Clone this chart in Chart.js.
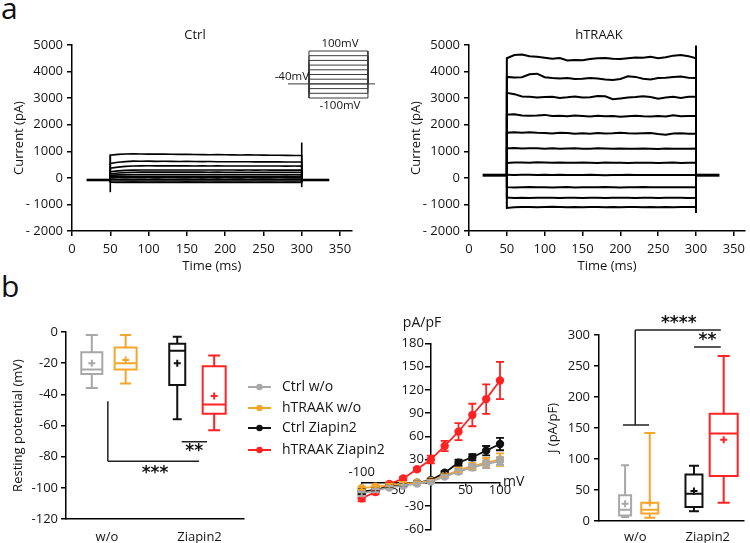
<!DOCTYPE html>
<html><head><meta charset="utf-8">
<script src="https://cdn.jsdelivr.net/npm/chart.js@4.4.1/dist/chart.umd.min.js"></script>
<style>
html,body{margin:0;padding:0;background:#fff;}
body{width:750px;height:543px;position:relative;overflow:hidden;font-family:'Open Sans',sans-serif;}
canvas{position:absolute;}
.lbl{position:absolute;font-size:30px;line-height:30px;color:#111;font-family:'Open Sans',sans-serif;}
</style></head><body>
<div class="lbl" style="left:1px;top:-7px">a</div>
<div class="lbl" style="left:1px;top:271px">b</div>
<canvas id="ctrl" style="left:0;top:25px" width="375" height="255"></canvas>
<canvas id="inset" style="left:262px;top:36px" width="116" height="80"></canvas>
<canvas id="traak" style="left:375px;top:25px" width="375" height="255"></canvas>
<canvas id="rest" style="left:0;top:300px" width="250" height="243"></canvas>
<canvas id="iv" style="left:245px;top:300px" width="280" height="243"></canvas>
<canvas id="jbox" style="left:525px;top:300px" width="225" height="243"></canvas>
<script>
// ---------- DATA ----------
const timeMs = [50,60,70,80,90,100,110,120,130,140,150,160,170,180,190,200,210,220,230,240,250,260,270,280,290,300];
const ctrlHolding = -80, ctrlHoldStart = 19, ctrlHoldEnd = 336;
const ctrlTraces = [
  [850,885,900,905,900,895,892,895,888,884,886,880,876,872,875,870,866,862,864,860,856,852,850,846,842,840],
  [540,585,612,628,626,630,622,624,620,616,619,614,611,613,609,606,608,604,605,601,603,600,600,598,596,598],
  [360,405,432,446,451,454,452,455,451,450,452,449,450,448,450,447,448,446,447,445,446,444,445,443,444,442],
  [230,262,281,291,295,297,296,298,296,295,297,295,296,294,295,293,294,292,294,292,293,291,292,290,291,290],
  [150,182,200,210,214,216,215,217,215,214,215,214,215,213,214,212,213,212,213,211,212,211,212,210,211,210],
  [95,112,120,125,127,128,127,128,127,126,127,126,127,125,126,125,126,124,125,124,125,124,125,123,124,123],
  [45,55,60,62,63,62,63,62,63,62,61,62,61,62,60,61,60,61,60,60,61,60,59,60,59,60],
  [0,5,4,2,5,3,1,4,2,3,0,2,1,3,0,2,1,0,2,1,0,1,2,0,1,0],
  [-55,-60,-58,-62,-59,-61,-58,-60,-62,-59,-60,-61,-59,-60,-58,-61,-60,-59,-61,-60,-59,-60,-61,-60,-59,-60],
  [-115,-120,-118,-122,-119,-121,-120,-118,-121,-120,-122,-119,-120,-121,-119,-120,-121,-120,-119,-121,-120,-119,-120,-121,-120,-120],
  [-165,-172,-168,-175,-170,-173,-169,-171,-174,-170,-172,-171,-169,-172,-170,-171,-173,-170,-171,-172,-170,-171,-172,-170,-171,-170]
];
const ctrlTransientTimes = [50, 300];
const ctrlTransientLow = [-540, -350];
const ctrlTransientHigh = [880, 1330];

const traakHolding = 100, traakHoldStart = 18, traakHoldEnd = 331;
const traakTraces = [
  [4500,4620,4640,4580,4560,4520,4480,4510,4420,4440,4430,4470,4500,4510,4480,4470,4500,4530,4520,4560,4500,4540,4600,4620,4580,4500],
  [3800,3780,3790,3900,3920,3790,3760,3740,3760,3720,3730,3760,3740,3700,3680,3720,3820,3800,3730,3700,3760,3770,3800,3810,3770,3760],
  [3200,3150,3060,3050,3020,3040,3050,3010,3030,3060,3020,3030,3080,3070,2960,2990,3020,3040,3070,3040,2980,3020,3050,3010,3050,3050],
  [2380,2390,2350,2340,2350,2370,2330,2340,2320,2350,2330,2310,2340,2320,2330,2300,2320,2340,2320,2310,2330,2310,2360,2320,2330,2330],
  [1700,1720,1700,1720,1700,1690,1670,1700,1690,1660,1680,1660,1690,1670,1680,1700,1680,1670,1680,1690,1650,1620,1670,1680,1660,1660],
  [1110,1120,1105,1115,1110,1100,1112,1098,1108,1115,1100,1095,1110,1102,1096,1108,1100,1092,1104,1098,1090,1102,1096,1100,1094,1100],
  [560,575,580,570,585,575,568,580,572,565,578,570,562,575,568,572,560,570,565,572,560,568,574,562,570,565],
  [120,110,115,120,105,115,110,118,108,112,105,115,110,100,112,108,115,105,110,112,104,110,108,112,105,110],
  [-350,-360,-355,-345,-358,-350,-362,-352,-348,-360,-355,-350,-358,-346,-355,-360,-350,-356,-348,-358,-352,-355,-350,-358,-352,-355],
  [-740,-755,-748,-760,-750,-745,-752,-758,-750,-745,-755,-750,-748,-756,-750,-752,-745,-755,-750,-748,-756,-750,-752,-748,-755,-750],
  [-1130,-1110,-1100,-1095,-1105,-1100,-1092,-1100,-1108,-1098,-1102,-1095,-1100,-1105,-1098,-1102,-1095,-1100,-1104,-1098,-1102,-1095,-1110,-1100,-1098,-1100]
];
const traakTransientTimes = [300];
const traakTransientLow = [-1320];
const traakTransientHigh = [4980];

// voltage protocol (inset)
const protoHolding = -40;
const protoSteps = [-100,-80,-60,-40,-20,0,20,40,60,80,100];
const protoTimes = [-39, 50, 300, 330];

// resting potential box plots (mV)
const groups = ['Ctrl w/o','hTRAAK w/o','Ctrl Ziapin2','hTRAAK Ziapin2'];
const conditions = ['w/o','Ziapin2'];
const restMin = [-36,-33,-56,-63];
const restQ1 = [-27,-24,-34,-52.5];
const restMedian = [-24,-20,-12,-46.5];
const restQ3 = [-13,-10,-7.5,-22];
const restMax = [-2,-2,-3,-15];
const restMean = [-20,-18,-20,-41];

// I-V curves (pA/pF)
const ivVoltage = [-100,-80,-60,-40,-20,0,20,40,60,80,100];
const ivCtrlWo = [-14,-10,-6,-4,-1,1.5,8,14.5,20,24,28];
const ivCtrlWoErr = [3,2,2,1.5,1.5,1.5,2,3,4,5,5];
const ivTraakWo = [-7,-5,-3,-1,0,2.5,9,16.5,21.5,26,30];
const ivTraakWoErr = [2,2,1.5,1.5,1.5,1.5,2,3,4,6,8];
const ivCtrlZia = [-11.5,-9,-5,-3,0,3.5,13,26,33,41.5,50];
const ivCtrlZiaErr = [3,2,2,2,1.5,1.5,2,4,4,6,8];
const ivTraakZia = [-20,-12,-1.5,5.5,17.5,30,47.5,66,87.5,108,132];
const ivTraakZiaErr = [4,3,2,2,2,5,6.5,11,14.5,19,24];

// current density box plots (pA/pF)
const jMin = [6.5,5.4,15.6,29.6];
const jQ1 = [9,12,22.6,72.7];
const jMedian = [18,18,44,141];
const jQ3 = [41.5,29.6,75,173];
const jMax = [90,142,89,266];
const jMean = [28,29,48.5,131];

// ---------- STYLE ----------
const GRAY = '#a8a8a8', ORANGE = '#f5a52c', BLACK = '#111111', RED = '#ff2323';
const groupColors = [GRAY, ORANGE, BLACK, RED];
const FONT = "'Open Sans', sans-serif";
const TXT = '#141414';

Chart.defaults.font.family = FONT;
Chart.defaults.font.size = 13;
Chart.defaults.color = TXT;
Chart.defaults.plugins.legend.display = false;
Chart.defaults.plugins.tooltip.enabled = false;

function baseOpts(padding) {
  return { responsive:false, maintainAspectRatio:false, animation:false, devicePixelRatio:1, events:[], layout:{padding} };
}
function axisLook(tickLen, extra) {
  return Object.assign({
    grid:{drawOnChartArea:false, drawTicks: tickLen > 0, tickLength:tickLen, color:'#000', lineWidth:1.5},
    border:{color:'#000', width:1.5}
  }, extra);
}
function textPlugin(id, items) {
  return { id, afterDraw(chart) {
    const ctx = chart.ctx;
    items.forEach(it => {
      let x = it.x, y = it.y;
      if (it.data) { x = chart.scales.x.getPixelForValue(it.x); y = chart.scales.y.getPixelForValue(it.y); }
      ctx.save();
      ctx.font = it.font || ('13px ' + FONT);
      ctx.fillStyle = it.color || TXT;
      ctx.textAlign = it.align || 'center';
      ctx.textBaseline = it.baseline || 'middle';
      ctx.fillText(it.text, x, y);
      ctx.restore();
    });
  }};
}
function linePlugin(id, segs) {
  return { id, afterDraw(chart) {
    const {ctx, scales:{x, y}} = chart;
    ctx.save(); ctx.strokeStyle = '#222'; ctx.lineWidth = 1.5;
    ctx.beginPath();
    segs.forEach(s => {
      ctx.moveTo(x.getPixelForValue(s[0]), y.getPixelForValue(s[1]));
      ctx.lineTo(x.getPixelForValue(s[2]), y.getPixelForValue(s[3]));
    });
    ctx.stroke(); ctx.restore();
  }};
}
function boxPlugin(id, mn, q1, med, q3, mx, pos, widths, caps) {
  return { id, beforeDatasetsDraw(chart) {
    const {ctx, scales:{x, y}} = chart;
    mn.forEach((_, i) => {
      const cx = x.getPixelForValue(pos[i]), w = widths[i], cw = caps[i];
      const yMin = y.getPixelForValue(mn[i]), yQ1 = y.getPixelForValue(q1[i]);
      const yMed = y.getPixelForValue(med[i]), yQ3 = y.getPixelForValue(q3[i]);
      const yMax = y.getPixelForValue(mx[i]);
      ctx.save(); ctx.strokeStyle = groupColors[i]; ctx.lineWidth = 2;
      ctx.beginPath();
      ctx.rect(cx - w/2, yQ3, w, yQ1 - yQ3);
      ctx.moveTo(cx - w/2, yMed); ctx.lineTo(cx + w/2, yMed);
      ctx.moveTo(cx, yQ3); ctx.lineTo(cx, yMax);
      ctx.moveTo(cx - cw/2, yMax); ctx.lineTo(cx + cw/2, yMax);
      ctx.moveTo(cx, yQ1); ctx.lineTo(cx, yMin);
      ctx.moveTo(cx - cw/2, yMin); ctx.lineTo(cx + cw/2, yMin);
      ctx.stroke(); ctx.restore();
    });
  }};
}

// ---------- PANEL a : current traces ----------
function traceDatasets(traces, hold, hStart, hEnd, tTimes, tLow, tHigh, width) {
  const ds = [];
  ds.push({data:[{x:hStart,y:hold},{x:timeMs[0],y:hold}], borderColor:'#000', borderWidth:width+1});
  ds.push({data:[{x:timeMs[timeMs.length-1],y:hold},{x:hEnd,y:hold}], borderColor:'#000', borderWidth:width+1});
  traces.forEach(tr => {
    const pts = [{x:timeMs[0], y:hold}].concat(timeMs.map((t,i)=>({x:t,y:tr[i]}))).concat([{x:timeMs[timeMs.length-1], y:hold}]);
    ds.push({data:pts, borderColor:'#000', borderWidth:width});
  });
  tTimes.forEach((t,i) => ds.push({data:[{x:t,y:tLow[i]},{x:t,y:tHigh[i]}], borderColor:'#000', borderWidth:width}));
  ds.forEach(d => { d.pointRadius = 0; d.showLine = true; d.clip = false; d.tension = 0; });
  return ds;
}
function traceChart(id, datasets, yWidth, yTitlePad, padRight, title, titleX) {
  new Chart(document.getElementById(id), {
    type:'scatter',
    data:{datasets},
    options: Object.assign(baseOpts({top:20, right:padRight, left:0, bottom:0}), {
      scales:{
        x: axisLook(5, {type:'linear', min:0, max:365,
          ticks:{stepSize:50, includeBounds:false, padding:5, maxRotation:0},
          title:{display:true, text:'Time (ms)', font:{size:13}, padding:{top:0,bottom:6}},
          afterFit:s=>{s.height=49;}}),
        y: axisLook(5, {type:'linear', min:-2000, max:5000,
          ticks:{stepSize:1000, padding:4, callback:v=> v<0 ? '- '+(-v) : String(v)},
          title:{display:true, text:'Current (pA)', font:{size:13}, padding:{top:yTitlePad,bottom:0}},
          afterFit:s=>{s.width=yWidth;}})
      }
    }),
    plugins:[textPlugin(id+'T', [{text:title, x:titleX, y:10, font:'13px '+FONT}])]
  });
}
traceChart('ctrl', traceDatasets(ctrlTraces, ctrlHolding, ctrlHoldStart, ctrlHoldEnd, ctrlTransientTimes, ctrlTransientLow, ctrlTransientHigh, 1.6), 72, 11, 23.5, 'Ctrl', 195);
traceChart('traak', traceDatasets(traakTraces, traakHolding, traakHoldStart, traakHoldEnd, traakTransientTimes, traakTransientLow, traakTransientHigh, 2), 94, 33, 0.5, 'hTRAAK', 224);

// inset: voltage protocol
(function(){
  const ds = [{data:[{x:protoTimes[0],y:protoHolding},{x:protoTimes[3],y:protoHolding}]}];
  protoSteps.forEach(v => ds.push({data:[{x:protoTimes[1],y:protoHolding},{x:protoTimes[1],y:v},{x:protoTimes[2],y:v},{x:protoTimes[2],y:protoHolding}]}));
  ds.forEach(d => Object.assign(d, {borderColor:'#3a3a3a', borderWidth:1, pointRadius:0, showLine:true, clip:false}));
  new Chart(document.getElementById('inset'), {
    type:'scatter', data:{datasets:ds},
    options: Object.assign(baseOpts({top:15,right:3,left:26,bottom:18}), {
      scales:{x:{display:false,type:'linear',min:-39,max:330}, y:{display:false,type:'linear',min:-100,max:100}}
    }),
    plugins:[textPlugin('insetT', [
      {text:'100mV', x:78, y:8, font:'11.5px '+FONT},
      {text:'-40mV', x:47, y:41, align:'right', font:'11.5px '+FONT},
      {text:'-100mV', x:78, y:70, font:'11.5px '+FONT}
    ])]
  });
})();

// ---------- PANEL b : resting potential ----------
const restPos = [0.58, 1.34, 2.5, 3.33];
const restCatPos = [0.92, 3.0];
function catAxis(catPos, pad) {
  return axisLook(0, {type:'linear', min:0, max:4,
    afterBuildTicks:s=>{ s.ticks = catPos.map(v=>({value:v})); },
    ticks:{padding:pad, maxRotation:0, autoSkip:false, callback:(v,i)=>conditions[i], font:{size:13}}
  });
}
new Chart(document.getElementById('rest'), {
  type:'scatter',
  data:{datasets:[{data:restMean.map((m,i)=>({x:restPos[i], y:m})), pointStyle:'cross', pointRadius:3.5,
    pointBorderWidth:2, pointBorderColor:groupColors, pointBackgroundColor:groupColors, clip:false}]},
  options: Object.assign(baseOpts({top:32,right:5,left:0,bottom:0}), {
    scales:{
      x: Object.assign(catAxis(restCatPos, 10), {afterFit:s=>{s.height=24;}}),
      y: axisLook(5, {type:'linear', min:-120, max:0, ticks:{stepSize:20, padding:3},
        title:{display:true, text:'Resting potential (mV)', font:{size:13}, padding:{top:10,bottom:0}},
        afterFit:s=>{s.width=66;}})
    }
  }),
  plugins:[
    boxPlugin('restBox', restMin, restQ1, restMedian, restQ3, restMax, restPos, [21,22,16,23], [12,11,9,12]),
    linePlugin('restSig', [[0.94,-44.5,0.94,-83],[0.94,-83,2.99,-83],[2.6,-70.5,3.17,-70.5]]),
    textPlugin('restStar', [
      {text:'***', x:2.0, y:-91, data:true, font:'bold 17px DejaVu Sans'},
      {text:'**', x:2.88, y:-76.5, data:true, font:'bold 17px DejaVu Sans'}
    ])
  ]
});

// ---------- PANEL b : I-V ----------
const ivSeries = [
  {label:groups[0], vals:ivCtrlWo, err:ivCtrlWoErr, color:GRAY},
  {label:groups[1], vals:ivTraakWo, err:ivTraakWoErr, color:ORANGE},
  {label:groups[2], vals:ivCtrlZia, err:ivCtrlZiaErr, color:BLACK},
  {label:groups[3], vals:ivTraakZia, err:ivTraakZiaErr, color:RED}
];
const errPlugin = { id:'errbars', afterDatasetsDraw(chart) {
  const {ctx, scales:{x, y}} = chart;
  for (let k = ivSeries.length - 1; k >= 0; k--) {
    const s = ivSeries[k];
    ctx.save(); ctx.strokeStyle = s.color; ctx.lineWidth = 1.8; ctx.beginPath();
    ivVoltage.forEach((v,i) => {
      const px = x.getPixelForValue(v);
      const yt = y.getPixelForValue(s.vals[i] + s.err[i]), yb = y.getPixelForValue(s.vals[i] - s.err[i]);
      ctx.moveTo(px, yt); ctx.lineTo(px, yb);
      ctx.moveTo(px-4, yt); ctx.lineTo(px+4, yt);
      ctx.moveTo(px-4, yb); ctx.lineTo(px+4, yb);
    });
    ctx.stroke(); ctx.restore();
  }
}};
// y tick labels of the centred axis, placed left of the tick marks
const ivYLabels = { id:'ivYLabels', afterDraw(chart) {
  const {ctx, scales:{x, y}} = chart;
  const ax = x.getPixelForValue(0);
  ctx.save(); ctx.font = '13px ' + FONT; ctx.fillStyle = TXT; ctx.textAlign = 'right'; ctx.textBaseline = 'middle';
  y.ticks.forEach(t => { if (t.value !== 0) ctx.fillText(String(t.value), ax - 7, y.getPixelForValue(t.value)); });
  ctx.restore();
}};
const legendPlugin = { id:'ivLegend', afterDraw(chart) {
  const ctx = chart.ctx; const rows = [87,108,128,150];
  ivSeries.forEach((s,i) => {
    ctx.save();
    ctx.strokeStyle = s.color; ctx.fillStyle = s.color; ctx.lineWidth = 2;
    ctx.beginPath(); ctx.moveTo(3, rows[i]); ctx.lineTo(26, rows[i]); ctx.stroke();
    ctx.beginPath(); ctx.arc(14.5, rows[i], 3.2, 0, Math.PI*2); ctx.fill();
    ctx.fillStyle = TXT; ctx.font = '14px ' + FONT; ctx.textAlign = 'left'; ctx.textBaseline = 'middle';
    ctx.fillText(s.label, 37, rows[i]);
    ctx.restore();
  });
}};
new Chart(document.getElementById('iv'), {
  type:'line',
  data:{datasets: ivSeries.map(s => ({label:s.label, data:ivVoltage.map((v,i)=>({x:v,y:s.vals[i]})),
    borderColor:s.color, backgroundColor:s.color, pointBackgroundColor:s.color, pointBorderColor:s.color,
    borderWidth:1.8, pointRadius:3.3, clip:false, tension:0}))},
  options: Object.assign(baseOpts({top:43.3,right:25,left:116.7,bottom:13.7}), {
    scales:{
      x: axisLook(3, {type:'linear', position:{y:0}, min:-100, max:100,
        ticks:{stepSize:50, padding:-3, autoSkip:false, maxRotation:0, callback:v=> (v===0||v===-100) ? '' : String(v)}}),
      y: axisLook(5, {type:'linear', position:{x:0}, min:-60, max:180,
        ticks:{stepSize:30, display:false}})
    }
  }),
  plugins:[errPlugin, ivYLabels, legendPlugin, textPlugin('ivT', [
    {text:'-100', x:-100, y:13.5, data:true},
    {text:'mV', x:258, y:182, align:'left', font:'14px '+FONT},
    {text:'pA/pF', x:177, y:23, font:'14px '+FONT}
  ])]
});

// ---------- PANEL b : current density ----------
const jPos = [0.72, 1.4, 2.62, 3.44];
const jCatPos = [1.0, 3.0];
new Chart(document.getElementById('jbox'), {
  type:'scatter',
  data:{datasets:[{data:jMean.map((m,i)=>({x:jPos[i], y:m})), pointStyle:'cross', pointRadius:3.5,
    pointBorderWidth:2, pointBorderColor:groupColors, pointBackgroundColor:groupColors, clip:false}]},
  options: Object.assign(baseOpts({top:35,right:0,left:0,bottom:0}), {
    scales:{
      x: Object.assign(catAxis(jCatPos, 8), {afterFit:s=>{s.height=22;}}),
      y: axisLook(5, {type:'linear', min:0, max:300, ticks:{stepSize:50, padding:4},
        title:{display:true, text:'J (pA/pF)', font:{size:13}, padding:{top:20,bottom:0}},
        afterFit:s=>{s.width=74;}})
    }
  }),
  plugins:[
    boxPlugin('jBox', jMin, jQ1, jMedian, jQ3, jMax, jPos, [12,17,17,28], [8,11,10,12]),
    linePlugin('jSig', [[0.66,155,1.38,155],[1.0,155,1.0,308],[1.0,308,3.36,308],[2.62,280.5,3.36,280.5]]),
    textPlugin('jStar', [
      {text:'****', x:2.2, y:318, data:true, font:'bold 17px DejaVu Sans'},
      {text:'**', x:2.99, y:291, data:true, font:'bold 17px DejaVu Sans'}
    ])
  ]
});
</script>
</body></html>
